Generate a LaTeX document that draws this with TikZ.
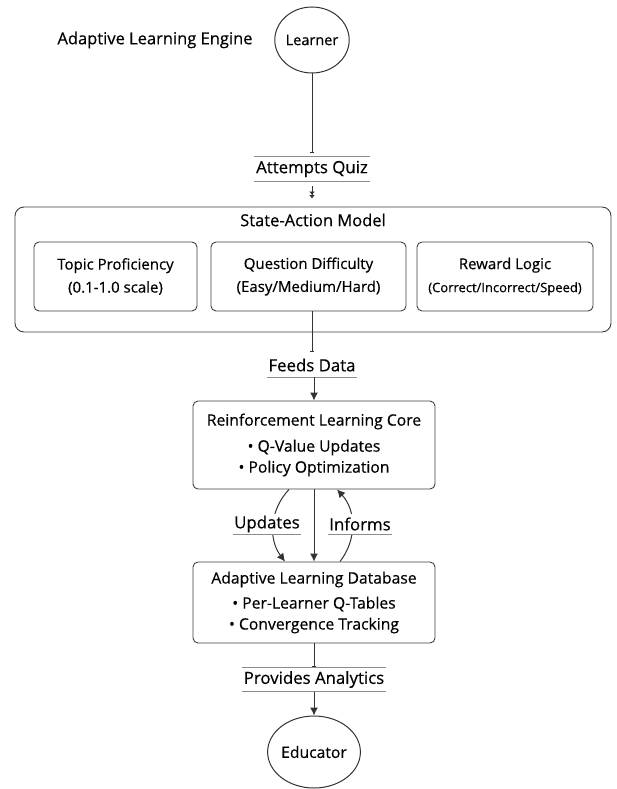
\documentclass[tikz,border=0pt]{standalone}
\usepackage{fontspec}
\setmainfont{Open Sans}[FakeBold=0.4]
\usetikzlibrary{arrows.meta,shapes.geometric,calc}
\begin{document}
\begin{tikzpicture}[x=1pt,y=-1pt,
  box/.style={draw=black!75, line width=0.9pt, rounded corners=5pt, align=center, inner sep=0pt},
  circ/.style={draw=black!80, line width=1pt, ellipse, inner sep=0pt},
  lab/.style={inner xsep=1.5pt, inner ysep=0pt, minimum height=24pt, font=\fontsize{16.8}{18}\selectfont},
  rulel/.style={draw=black!45, line width=0.8pt},
  conn/.style={draw=black!80, line width=1pt},
  tip/.style={-{Latex[length=8pt,width=8pt]}},
  teetip/.style={-{Bar[width=4pt]}},
  dbltip/.style={-{Latex[length=3.5pt,width=6pt]Latex[length=3.5pt,width=6pt]}},
  boxfont/.style={font=\fontsize{15}{23}\selectfont},
]
\useasboundingbox (0,0) rectangle (616,789);
\fill[white] (0,0) rectangle (616,789);

% title and learner
\node[font=\fontsize{16.5}{18}\selectfont] (title) at (155,40) {Adaptive Learning Engine};
\node[circ, minimum width=68pt, minimum height=66pt, font=\fontsize{14.5}{16}\selectfont] (learner) at (312,40) {Learner};

% attempts quiz label
\node[lab] (aq) at (312,169) {Attempts Quiz};
\draw[rulel] (aq.north west) -- (aq.north east);
\draw[rulel] (aq.south west) -- (aq.south east);

% state-action model
\node[draw=black!75, line width=0.9pt, rounded corners=9pt, minimum width=596pt, minimum height=125pt, inner sep=0pt] (sam) at (313,269.5) {};
\node[font=\fontsize{16.5}{18}\selectfont] (samt) at (313,220) {State-Action Model};
\node[box, boxfont, minimum width=163pt, minimum height=69pt] (b1) at (115.5,276.5) {Topic Proficiency\\(0.1-1.0 scale)};
\node[box, boxfont, minimum width=195pt, minimum height=69pt] (b2) at (308.5,276.5) {Question Difficulty\\(Easy/Medium/Hard)};
\node[box, boxfont, minimum width=176pt, minimum height=69pt] (b3) at (505,276.5) {Reward Logic\\{\fontsize{13}{15}\selectfont(Correct/Incorrect/Speed)}};

% feeds data
\node[lab] (feeds) at (312,365) {Feeds Data};
\draw[rulel] (feeds.south west) -- (feeds.south east);

% RL core
\node[box, minimum width=242pt, minimum height=88pt, font=\fontsize{15.7}{21}\selectfont] (rl) at (314,445) {Reinforcement Learning Core\\[5pt]• Q-Value Updates\\• Policy Optimization};

% database
\node[box, minimum width=242pt, minimum height=81pt, font=\fontsize{15.7}{21}\selectfont] (db) at (314,602.5) {Adaptive Learning Database\\[4pt]• Per-Learner Q-Tables\\• Convergence Tracking};

% provides analytics
\node[lab] (pa) at (314,679.5) {Provides Analytics};
\draw[rulel] (pa.north west) -- (pa.north east);
\draw[rulel] (pa.south west) -- (pa.south east);

% educator
\node[circ, minimum width=86pt, minimum height=72pt, font=\fontsize{15.7}{18}\selectfont] (edu) at (314,752) {Educator};

% connectors
\draw[conn, teetip] (learner.south) -- ($(aq.north)+(0,-4)$);
\draw[conn, dbltip, shorten <=5pt, shorten >=8pt] (aq.south) -- (aq.south |- sam.north);
\draw[conn, teetip] (feeds.north |- b2.south) -- ($(feeds.north)+(0,-1)$);
\draw[conn, tip] (feeds.south -| rl.north) -- (rl.north);
\draw[conn, tip] (rl.south) -- (db.north);
\draw[conn, teetip] (db.south) -- (pa.north);
\draw[conn, tip] (pa.south) -- (edu.north);

\coordinate (u1) at ($(rl.south)+(-25,0)$);
\coordinate (u2) at ($(db.north)+(-29,0)$);
\coordinate (i1) at ($(db.north)+(26,0)$);
\coordinate (i2) at ($(rl.south)+(23,0)$);
\draw[conn, tip] (u1) to[bend right=40] (u2);
\draw[conn, tip] (i1) to[bend right=40] (i2);

\node[lab, fill=white, minimum height=20pt] (upd) at (267,524) {Updates};
\draw[rulel] (upd.south west) -- (upd.south east);
\node[lab, fill=white, minimum height=20pt] (inf) at (360,524) {Informs};
\draw[rulel] (inf.south west) -- (inf.south east);
\end{tikzpicture}
\end{document}
